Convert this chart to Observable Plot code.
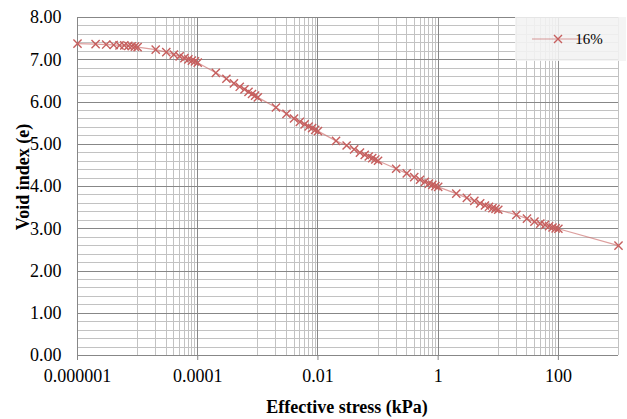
<!DOCTYPE html>
<html>
<head>
<meta charset="utf-8">
<script src="https://cdn.jsdelivr.net/npm/d3@7"></script>
<script src="https://cdn.jsdelivr.net/npm/@observablehq/plot@0.6"></script>
<style>
  html, body { margin: 0; padding: 0; background: #ffffff; }
  #chart { position: relative; width: 627px; height: 419px; }
</style>
</head>
<body>
<div id="chart"></div>
<script>
// ---- data ----
const seriesName = "16%";
const stress = [
  0.000001, 0.000002, 0.000003, 0.000004, 0.000005, 0.000006, 0.000007, 0.000008, 0.000009,
  0.00001, 0.00002, 0.00003, 0.00004, 0.00005, 0.00006, 0.00007, 0.00008, 0.00009,
  0.0001, 0.0002, 0.0003, 0.0004, 0.0005, 0.0006, 0.0007, 0.0008, 0.0009,
  0.001, 0.002, 0.003, 0.004, 0.005, 0.006, 0.007, 0.008, 0.009,
  0.01, 0.02, 0.03, 0.04, 0.05, 0.06, 0.07, 0.08, 0.09,
  0.1, 0.2, 0.3, 0.4, 0.5, 0.6, 0.7, 0.8, 0.9,
  1, 2, 3, 4, 5, 6, 7, 8, 9,
  10, 20, 30, 40, 50, 60, 70, 80, 90,
  100, 1000
];
const voidIndex = [
  7.38, 7.37, 7.36, 7.35, 7.34, 7.34, 7.33, 7.32, 7.31,
  7.30, 7.24, 7.18, 7.12, 7.08, 7.04, 7.01, 6.98, 6.96,
  6.93, 6.69, 6.55, 6.44, 6.36, 6.30, 6.24, 6.19, 6.15,
  6.11, 5.87, 5.72, 5.61, 5.53, 5.47, 5.42, 5.38, 5.34,
  5.31, 5.08, 4.97, 4.88, 4.80, 4.75, 4.71, 4.67, 4.64,
  4.61, 4.42, 4.31, 4.22, 4.16, 4.11, 4.07, 4.04, 4.01,
  3.99, 3.83, 3.73, 3.66, 3.60, 3.55, 3.52, 3.49, 3.47,
  3.45, 3.33, 3.24, 3.17, 3.12, 3.09, 3.06, 3.03, 3.01,
  3.00, 2.60
];
const xTickValues = [0.000001, 0.0001, 0.01, 1, 100];
const xTickLabels = ["0.000001", "0.0001", "0.01", "1", "100"];
const xMinorMultipliers = [10, 20, 30, 40, 50, 60, 70, 80, 90];
const yTickValues = [0, 1, 2, 3, 4, 5, 6, 7, 8];
const yTickLabels = ["0.00", "1.00", "2.00", "3.00", "4.00", "5.00", "6.00", "7.00", "8.00"];
const yMinorTicks = [0.2, 0.4, 0.6, 0.8, 1.2, 1.4, 1.6, 1.8, 2.2, 2.4, 2.6, 2.8, 3.2, 3.4, 3.6, 3.8,
  4.2, 4.4, 4.6, 4.8, 5.2, 5.4, 5.6, 5.8, 6.2, 6.4, 6.6, 6.8, 7.2, 7.4, 7.6, 7.8];
const xTitle = "Effective stress (kPa)";
const yTitle = "Void index (e)";

// ---- build ----
const points = stress.map((s, i) => ({stress: s, e: voidIndex[i]}));
const xMinor = [];
xTickValues.forEach(M => xMinorMultipliers.forEach(k => {
  const v = +(M * k).toPrecision(6);
  if (v <= 1000) xMinor.push(v);
}));

const color = "#c65f5e";
const minorGrid = "#c2c2c2";
const majorGrid = "#878787";
const serif = "Liberation Serif, Times New Roman, serif";

const chart = Plot.plot({
  width: 627,
  height: 419,
  marginLeft: 77,
  marginRight: 9,
  marginTop: 17,
  marginBottom: 64,
  style: {fontFamily: serif, fontSize: "18px"},
  x: {type: "log", domain: [0.000001, 1000]},
  y: {domain: [0, 8]},
  marks: [
    Plot.ruleY(yMinorTicks, {y: d => d, stroke: minorGrid, strokeWidth: 1, shapeRendering: "crispEdges"}),
    Plot.ruleX(xMinor, {x: d => d, stroke: minorGrid, strokeWidth: 1, shapeRendering: "crispEdges"}),
    Plot.ruleY(yTickValues, {y: d => d, stroke: majorGrid, strokeWidth: 1, shapeRendering: "crispEdges"}),
    Plot.ruleX(xTickValues, {x: d => d, stroke: majorGrid, strokeWidth: 1, shapeRendering: "crispEdges"}),
    Plot.axisY(yTickValues, {tickSize: 0, tickPadding: 16, tickFormat: d => yTickLabels[yTickValues.indexOf(d)], label: null, fontSize: 18}),
    Plot.axisX(xTickValues, {tickSize: 5, tickPadding: 9, stroke: majorGrid, tickFormat: d => xTickLabels[xTickValues.indexOf(d)], label: null, fontSize: 18}),
    Plot.line(points, {x: "stress", y: "e", stroke: color, strokeWidth: 1.2, strokeOpacity: 0.6}),
    Plot.dot(points, {x: "stress", y: "e", symbol: "times", r: 3.8, stroke: color, strokeWidth: 1.4})
  ]
});

const svg = d3.select(chart);
svg.append("text")
  .attr("x", 347).attr("y", 407)
  .attr("text-anchor", "middle").attr("dominant-baseline", "central")
  .style("font-weight", "bold").style("font-size", "18px").style("font-family", serif)
  .text(xTitle);
svg.append("text")
  .attr("transform", "translate(23,177) rotate(-90)")
  .attr("text-anchor", "middle").attr("dominant-baseline", "central")
  .style("font-weight", "bold").style("font-size", "18px").style("font-family", serif)
  .text(yTitle);

// legend
const lg = svg.append("g");
lg.append("rect").attr("x", 515).attr("y", 17).attr("width", 111).attr("height", 44)
  .attr("fill", "#f2f2f2").attr("fill-opacity", 0.88);
lg.append("line").attr("x1", 532).attr("x2", 583).attr("y1", 39).attr("y2", 39)
  .attr("stroke", color).attr("stroke-opacity", 0.6).attr("stroke-width", 1.2);
lg.append("path").attr("d", "M554,35L562,43M562,35L554,43")
  .attr("stroke", color).attr("stroke-width", 1.4).attr("fill", "none");
lg.append("text").attr("x", 589).attr("y", 39).attr("dominant-baseline", "central")
  .style("font-size", "15px").style("font-family", serif).text(seriesName);

document.getElementById("chart").appendChild(chart);
</script>
</body>
</html>
